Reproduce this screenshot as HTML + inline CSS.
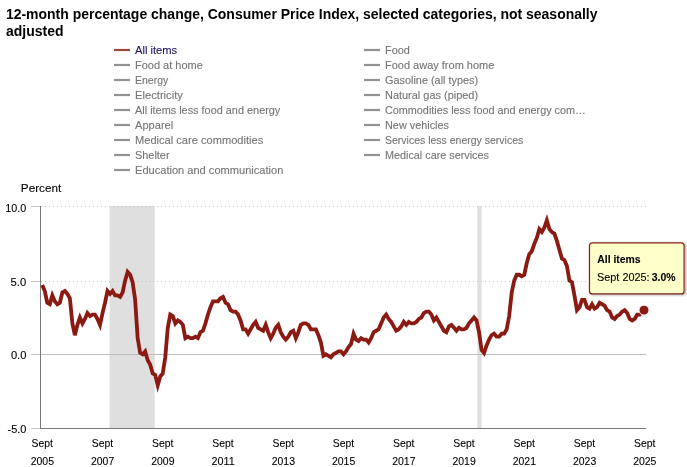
<!DOCTYPE html>
<html lang="en"><head><meta charset="utf-8"><title>12-month percentage change, Consumer Price Index</title>
<style>
html,body{margin:0;padding:0;background:#fff;}
body{width:687px;height:467px;overflow:hidden;font-family:"Liberation Sans", sans-serif;}
svg{display:block}
text{font-family:"Liberation Sans", sans-serif;}
</style></head><body>
<svg width="687" height="467" viewBox="0 0 687 467">

<rect width="687" height="467" fill="#fff"/>
<path d="M114 50H130" stroke="#9c4741" stroke-width="2.2" fill="none"/>
<path d="M114 65H130" stroke="#929292" stroke-width="2.2" fill="none"/>
<path d="M114 80H130" stroke="#929292" stroke-width="2.2" fill="none"/>
<path d="M114 95H130" stroke="#929292" stroke-width="2.2" fill="none"/>
<path d="M114 110H130" stroke="#929292" stroke-width="2.2" fill="none"/>
<path d="M114 125H130" stroke="#929292" stroke-width="2.2" fill="none"/>
<path d="M114 140H130" stroke="#929292" stroke-width="2.2" fill="none"/>
<path d="M114 155H130" stroke="#929292" stroke-width="2.2" fill="none"/>
<path d="M114 170H130" stroke="#929292" stroke-width="2.2" fill="none"/>
<path d="M364 50H380" stroke="#929292" stroke-width="2.2" fill="none"/>
<path d="M364 65H380" stroke="#929292" stroke-width="2.2" fill="none"/>
<path d="M364 80H380" stroke="#929292" stroke-width="2.2" fill="none"/>
<path d="M364 95H380" stroke="#929292" stroke-width="2.2" fill="none"/>
<path d="M364 110H380" stroke="#929292" stroke-width="2.2" fill="none"/>
<path d="M364 125H380" stroke="#929292" stroke-width="2.2" fill="none"/>
<path d="M364 140H380" stroke="#929292" stroke-width="2.2" fill="none"/>
<path d="M364 155H380" stroke="#929292" stroke-width="2.2" fill="none"/>
<rect x="109.54" y="206" width="45.19" height="222" fill="#dfdfdf"/>
<rect x="477.4" y="206" width="4.2" height="222" fill="#dfdfdf"/>
<path d="M41 206.5H646" stroke="#c4c4c4" stroke-width="1" stroke-dasharray="1 3" fill="none"/>
<path d="M41 281.5H646" stroke="#c4c4c4" stroke-width="1" stroke-dasharray="1 3" fill="none"/>
<path d="M41 354.5H646" stroke="#bebebe" stroke-width="1" fill="none"/>
<path d="M40 428.5H646" stroke="#7a7a7a" stroke-width="1" fill="none"/>
<path d="M40.5 206V429" stroke="#7a7a7a" stroke-width="1" fill="none"/>
<path d="M31 206.5H40" stroke="#c4c4c4" stroke-width="1" fill="none"/>
<path d="M31 281.5H40" stroke="#c4c4c4" stroke-width="1" fill="none"/>
<path d="M31 354.5H40" stroke="#c4c4c4" stroke-width="1" fill="none"/>
<path d="M31 428.5H40" stroke="#c4c4c4" stroke-width="1" fill="none"/>
<path d="M42.26 285.09 L44.77 290.98 L47.28 302.77 L49.79 304.24 L52.30 295.40 L54.81 301.29 L57.32 304.24 L59.83 302.77 L62.34 292.45 L64.85 290.98 L67.36 293.93 L69.87 298.35 L72.38 323.39 L74.89 335.18 L77.40 324.87 L79.91 317.50 L82.42 323.39 L84.93 318.97 L87.44 313.08 L89.95 316.03 L92.46 314.55 L94.97 314.55 L97.48 318.97 L99.99 324.87 L102.50 313.08 L105.01 302.77 L107.52 290.98 L110.04 293.93 L112.55 290.98 L115.06 295.40 L117.57 295.40 L120.08 296.87 L122.59 292.45 L125.10 280.67 L127.61 271.83 L130.12 274.77 L132.63 282.14 L135.14 299.82 L137.65 338.13 L140.16 352.86 L142.67 354.33 L145.18 351.39 L147.69 360.23 L150.20 364.65 L152.71 373.49 L155.22 374.96 L157.73 385.27 L160.24 376.43 L162.75 373.49 L165.26 357.28 L167.77 327.81 L170.28 314.55 L172.79 316.03 L175.30 323.39 L177.82 320.45 L180.33 321.92 L182.84 324.87 L185.35 338.13 L187.86 336.65 L190.37 338.13 L192.88 338.13 L195.39 336.65 L197.90 338.13 L200.41 332.23 L202.92 330.76 L205.43 323.39 L207.94 314.55 L210.45 307.19 L212.96 301.29 L215.47 301.29 L217.98 301.29 L220.49 298.35 L223.00 296.87 L225.51 302.77 L228.02 304.24 L230.53 310.13 L233.04 311.61 L235.55 311.61 L238.06 314.55 L240.57 320.45 L243.09 329.29 L245.60 329.29 L248.11 333.71 L250.62 329.29 L253.13 324.87 L255.64 321.92 L258.15 327.81 L260.66 329.29 L263.17 330.76 L265.68 324.87 L268.19 332.23 L270.70 338.13 L273.21 333.71 L275.72 327.81 L278.23 324.87 L280.74 332.23 L283.25 336.65 L285.76 339.60 L288.27 336.65 L290.78 332.23 L293.29 330.76 L295.80 338.13 L298.31 332.23 L300.82 324.87 L303.33 323.39 L305.84 323.39 L308.35 324.87 L310.87 329.29 L313.38 329.29 L315.89 329.29 L318.40 335.18 L320.91 342.55 L323.42 355.81 L325.93 354.33 L328.44 355.81 L330.95 357.28 L333.46 354.33 L335.97 352.86 L338.48 351.39 L340.99 351.39 L343.50 354.33 L346.01 351.39 L348.52 346.97 L351.03 344.02 L353.54 333.71 L356.05 339.60 L358.56 341.07 L361.07 338.13 L363.58 339.60 L366.09 339.60 L368.60 342.55 L371.11 338.13 L373.62 332.23 L376.13 330.76 L378.65 329.29 L381.16 323.39 L383.67 317.50 L386.18 314.55 L388.69 318.97 L391.20 321.92 L393.71 326.34 L396.22 330.76 L398.73 329.29 L401.24 326.34 L403.75 321.92 L406.26 324.87 L408.77 321.92 L411.28 323.39 L413.79 323.39 L416.30 321.92 L418.81 318.97 L421.32 317.50 L423.83 313.08 L426.34 311.61 L428.85 311.61 L431.36 314.55 L433.87 320.45 L436.38 317.50 L438.89 321.92 L441.40 326.34 L443.91 330.76 L446.43 332.23 L448.94 326.34 L451.45 324.87 L453.96 327.81 L456.47 330.76 L458.98 327.81 L461.49 329.29 L464.00 329.29 L466.51 327.81 L469.02 323.39 L471.53 320.45 L474.04 317.50 L476.55 320.45 L479.06 332.23 L481.57 349.91 L484.08 352.86 L486.59 345.49 L489.10 339.60 L491.61 335.18 L494.12 333.71 L496.63 336.65 L499.14 336.65 L501.65 333.71 L504.16 333.71 L506.67 329.29 L509.18 316.03 L511.70 292.45 L514.21 280.67 L516.72 274.77 L519.23 274.77 L521.74 276.25 L524.25 274.77 L526.76 262.99 L529.27 254.15 L531.78 251.20 L534.29 243.83 L536.80 237.94 L539.31 229.10 L541.82 232.05 L544.33 227.63 L546.84 220.26 L549.35 229.10 L551.86 232.05 L554.37 233.52 L556.88 240.89 L559.39 249.73 L561.90 258.57 L564.41 260.04 L566.92 265.93 L569.43 280.67 L571.94 282.14 L574.45 295.40 L576.96 310.13 L579.48 307.19 L581.99 299.82 L584.50 299.82 L587.01 307.19 L589.52 308.66 L592.03 304.24 L594.54 308.66 L597.05 307.19 L599.56 302.77 L602.07 304.24 L604.58 305.71 L607.09 310.13 L609.60 311.61 L612.11 317.50 L614.62 318.97 L617.13 316.03 L619.64 314.55 L622.15 311.61 L624.66 310.13 L627.17 313.08 L629.68 318.97 L632.19 320.45 L634.70 318.97 L637.21 314.55 L639.72 314.55 L642.23 311.61 L644.74 310.13" stroke="#8b1a12" stroke-width="3.8" fill="none" stroke-linejoin="miter" stroke-miterlimit="4" stroke-linecap="butt"/>
<circle cx="644" cy="310.13" r="5" fill="#8b1a12" stroke="#fff" stroke-width="1"/>
<rect x="590.5" y="243.5" width="95" height="51" rx="3" fill="none" stroke="#000" stroke-opacity="0.05" stroke-width="5"/>
<rect x="590.5" y="243.5" width="95" height="51" rx="3" fill="none" stroke="#000" stroke-opacity="0.08" stroke-width="3"/>
<rect x="590.5" y="243.5" width="95" height="51" rx="3" fill="none" stroke="#000" stroke-opacity="0.12" stroke-width="1"/>
<rect x="589.5" y="242.8" width="94.6" height="51.1" rx="3" fill="#ffffca" stroke="#86241b" stroke-width="1.2"/>
<text x="5.90" y="19" font-size="14" font-weight="bold" fill="#000" textLength="591.62" lengthAdjust="spacingAndGlyphs">12-month percentage change, Consumer Price Index, selected categories, not seasonally</text>
<text x="6.00" y="36" font-size="14" font-weight="bold" fill="#000" textLength="57.48" lengthAdjust="spacingAndGlyphs">adjusted</text>
<text x="135.00" y="54" font-size="10" fill="#1b1464" stroke="#1b1464" stroke-width="0.1" textLength="42.18" lengthAdjust="spacingAndGlyphs">All items</text>
<text x="135.00" y="69" font-size="10" fill="#757575" stroke="#757575" stroke-width="0.1" textLength="67.82" lengthAdjust="spacingAndGlyphs">Food at home</text>
<text x="135.00" y="84" font-size="10" fill="#757575" stroke="#757575" stroke-width="0.1" textLength="33.30" lengthAdjust="spacingAndGlyphs">Energy</text>
<text x="135.00" y="99" font-size="10" fill="#757575" stroke="#757575" stroke-width="0.1" textLength="47.90" lengthAdjust="spacingAndGlyphs">Electricity</text>
<text x="135.00" y="114" font-size="10" fill="#757575" stroke="#757575" stroke-width="0.1" textLength="145.32" lengthAdjust="spacingAndGlyphs">All items less food and energy</text>
<text x="135.00" y="129" font-size="10" fill="#757575" stroke="#757575" stroke-width="0.1" textLength="38.25" lengthAdjust="spacingAndGlyphs">Apparel</text>
<text x="135.00" y="144" font-size="10" fill="#757575" stroke="#757575" stroke-width="0.1" textLength="128.20" lengthAdjust="spacingAndGlyphs">Medical care commodities</text>
<text x="135.00" y="159" font-size="10" fill="#757575" stroke="#757575" stroke-width="0.1" textLength="34.55" lengthAdjust="spacingAndGlyphs">Shelter</text>
<text x="135.00" y="174" font-size="10" fill="#757575" stroke="#757575" stroke-width="0.1" textLength="148.31" lengthAdjust="spacingAndGlyphs">Education and communication</text>
<text x="385.00" y="54" font-size="10" fill="#757575" stroke="#757575" stroke-width="0.1" textLength="24.80" lengthAdjust="spacingAndGlyphs">Food</text>
<text x="385.00" y="69" font-size="10" fill="#757575" stroke="#757575" stroke-width="0.1" textLength="109.35" lengthAdjust="spacingAndGlyphs">Food away from home</text>
<text x="385.00" y="84" font-size="10" fill="#757575" stroke="#757575" stroke-width="0.1" textLength="93.15" lengthAdjust="spacingAndGlyphs">Gasoline (all types)</text>
<text x="385.00" y="99" font-size="10" fill="#757575" stroke="#757575" stroke-width="0.1" textLength="93.10" lengthAdjust="spacingAndGlyphs">Natural gas (piped)</text>
<text x="385.00" y="114" font-size="10" fill="#757575" stroke="#757575" stroke-width="0.1" textLength="200.85" lengthAdjust="spacingAndGlyphs">Commodities less food and energy com…</text>
<text x="385.00" y="129" font-size="10" fill="#757575" stroke="#757575" stroke-width="0.1" textLength="63.96" lengthAdjust="spacingAndGlyphs">New vehicles</text>
<text x="385.00" y="144" font-size="10" fill="#757575" stroke="#757575" stroke-width="0.1" textLength="138.29" lengthAdjust="spacingAndGlyphs">Services less energy services</text>
<text x="385.00" y="159" font-size="10" fill="#757575" stroke="#757575" stroke-width="0.1" textLength="103.94" lengthAdjust="spacingAndGlyphs">Medical care services</text>
<text x="20.85" y="192" font-size="11.2" fill="#000" stroke="#000" stroke-width="0.1" textLength="40.40" lengthAdjust="spacingAndGlyphs">Percent</text>
<text x="5.20" y="212" font-size="11.2" fill="#000" stroke="#000" stroke-width="0.1" textLength="20.99" lengthAdjust="spacingAndGlyphs">10.0</text>
<text x="10.55" y="286" font-size="11.2" fill="#000" stroke="#000" stroke-width="0.1" textLength="15.67" lengthAdjust="spacingAndGlyphs">5.0</text>
<text x="10.90" y="359" font-size="11.2" fill="#000" stroke="#000" stroke-width="0.1" textLength="15.51" lengthAdjust="spacingAndGlyphs">0.0</text>
<text x="7.55" y="433" font-size="11.2" fill="#000" stroke="#000" stroke-width="0.1" textLength="18.87" lengthAdjust="spacingAndGlyphs">-5.0</text>
<text x="31.62" y="447" font-size="11.2" fill="#000" stroke="#000" stroke-width="0.1" textLength="21.38" lengthAdjust="spacingAndGlyphs">Sept</text>
<text x="30.72" y="465" font-size="11.2" fill="#000" stroke="#000" stroke-width="0.1" textLength="23.27" lengthAdjust="spacingAndGlyphs">2005</text>
<text x="91.86" y="447" font-size="11.2" fill="#000" stroke="#000" stroke-width="0.1" textLength="21.38" lengthAdjust="spacingAndGlyphs">Sept</text>
<text x="90.96" y="465" font-size="11.2" fill="#000" stroke="#000" stroke-width="0.1" textLength="23.27" lengthAdjust="spacingAndGlyphs">2007</text>
<text x="152.11" y="447" font-size="11.2" fill="#000" stroke="#000" stroke-width="0.1" textLength="21.38" lengthAdjust="spacingAndGlyphs">Sept</text>
<text x="151.21" y="465" font-size="11.2" fill="#000" stroke="#000" stroke-width="0.1" textLength="23.27" lengthAdjust="spacingAndGlyphs">2009</text>
<text x="212.36" y="447" font-size="11.2" fill="#000" stroke="#000" stroke-width="0.1" textLength="21.38" lengthAdjust="spacingAndGlyphs">Sept</text>
<text x="211.46" y="465" font-size="11.2" fill="#000" stroke="#000" stroke-width="0.1" textLength="23.23" lengthAdjust="spacingAndGlyphs">2011</text>
<text x="272.60" y="447" font-size="11.2" fill="#000" stroke="#000" stroke-width="0.1" textLength="21.38" lengthAdjust="spacingAndGlyphs">Sept</text>
<text x="271.70" y="465" font-size="11.2" fill="#000" stroke="#000" stroke-width="0.1" textLength="23.27" lengthAdjust="spacingAndGlyphs">2013</text>
<text x="332.85" y="447" font-size="11.2" fill="#000" stroke="#000" stroke-width="0.1" textLength="21.38" lengthAdjust="spacingAndGlyphs">Sept</text>
<text x="331.95" y="465" font-size="11.2" fill="#000" stroke="#000" stroke-width="0.1" textLength="23.27" lengthAdjust="spacingAndGlyphs">2015</text>
<text x="393.10" y="447" font-size="11.2" fill="#000" stroke="#000" stroke-width="0.1" textLength="21.38" lengthAdjust="spacingAndGlyphs">Sept</text>
<text x="392.20" y="465" font-size="11.2" fill="#000" stroke="#000" stroke-width="0.1" textLength="23.27" lengthAdjust="spacingAndGlyphs">2017</text>
<text x="453.34" y="447" font-size="11.2" fill="#000" stroke="#000" stroke-width="0.1" textLength="21.38" lengthAdjust="spacingAndGlyphs">Sept</text>
<text x="452.44" y="465" font-size="11.2" fill="#000" stroke="#000" stroke-width="0.1" textLength="23.27" lengthAdjust="spacingAndGlyphs">2019</text>
<text x="513.59" y="447" font-size="11.2" fill="#000" stroke="#000" stroke-width="0.1" textLength="21.38" lengthAdjust="spacingAndGlyphs">Sept</text>
<text x="512.69" y="465" font-size="11.2" fill="#000" stroke="#000" stroke-width="0.1" textLength="23.27" lengthAdjust="spacingAndGlyphs">2021</text>
<text x="573.84" y="447" font-size="11.2" fill="#000" stroke="#000" stroke-width="0.1" textLength="21.38" lengthAdjust="spacingAndGlyphs">Sept</text>
<text x="572.94" y="465" font-size="11.2" fill="#000" stroke="#000" stroke-width="0.1" textLength="23.27" lengthAdjust="spacingAndGlyphs">2023</text>
<text x="634.08" y="447" font-size="11.2" fill="#000" stroke="#000" stroke-width="0.1" textLength="21.38" lengthAdjust="spacingAndGlyphs">Sept</text>
<text x="633.18" y="465" font-size="11.2" fill="#000" stroke="#000" stroke-width="0.1" textLength="23.27" lengthAdjust="spacingAndGlyphs">2025</text>
<text x="597.30" y="263" font-size="11.5" font-weight="bold" fill="#000" stroke="#000" stroke-width="0.1" textLength="43.30" lengthAdjust="spacingAndGlyphs">All items</text>
<text x="597.05" y="281" font-size="11.5" fill="#000" stroke="#000" stroke-width="0.1" textLength="52.55" lengthAdjust="spacingAndGlyphs">Sept 2025:</text>
<text x="651.80" y="281" font-size="11.5" font-weight="bold" fill="#000" stroke="#000" stroke-width="0.1" textLength="23.80" lengthAdjust="spacingAndGlyphs">3.0%</text>
</svg></body></html>
